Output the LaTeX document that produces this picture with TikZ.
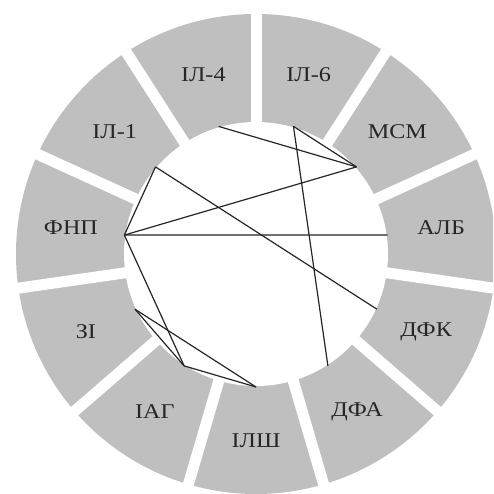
\documentclass[tikz,border=0pt]{standalone}
\usepackage{fontspec}
\setmainfont{Liberation Serif}[FakeStretch=1.15]
\begin{document}
\begin{tikzpicture}[x=1pt,y=1pt,
  seglabel/.style={font=\fontsize{21}{21}\selectfont, text=black!85, inner sep=0pt},
  chord/.style={line width=1.2pt, draw=black!85},
  gapline/.style={line width=11pt, draw=white}]
\useasboundingbox (0,0) rectangle (493,494);
\clip (0,0) rectangle (493,494);
\coordinate (O) at (256,240);
\fill[gray!50] (O) circle (240);
\fill[white] (O) circle (132);
\foreach \k in {0,...,10} \draw[gapline] (O) -- ++({90-\k*360/11}:250);
\foreach \name/\txt [count=\i from 0] in {il6/ІЛ-6, msm/МСМ, alb/АЛБ, dfk/ДФК, dfa/ДФА, ilsh/ІЛШ, iag/ІАГ, zi/ЗІ, fnp/ФНП, il1/ІЛ-1, il4/ІЛ-4}{
  \node[seglabel] (\name) at ([shift={({90-(\i+0.5)*360/11}:187)}]O) {\txt};
  \coordinate (p-\name) at ([shift={({90-(\i+0.5)*360/11}:133)}]O);
}
\draw[chord] (p-fnp) -- (p-msm);
\draw[chord] (p-fnp) -- (p-alb);
\draw[chord] (p-fnp) -- (p-il1);
\draw[chord] (p-fnp) -- (p-iag);
\draw[chord] (p-il1) -- (p-dfk);
\draw[chord] (p-il4) -- (p-msm);
\draw[chord] (p-il6) -- (p-msm);
\draw[chord] (p-il6) -- (p-dfa);
\draw[chord] (p-zi) -- (p-iag);
\draw[chord] (p-zi) -- (p-ilsh);
\draw[chord] (p-iag) -- (p-ilsh);
\end{tikzpicture}
\end{document}
